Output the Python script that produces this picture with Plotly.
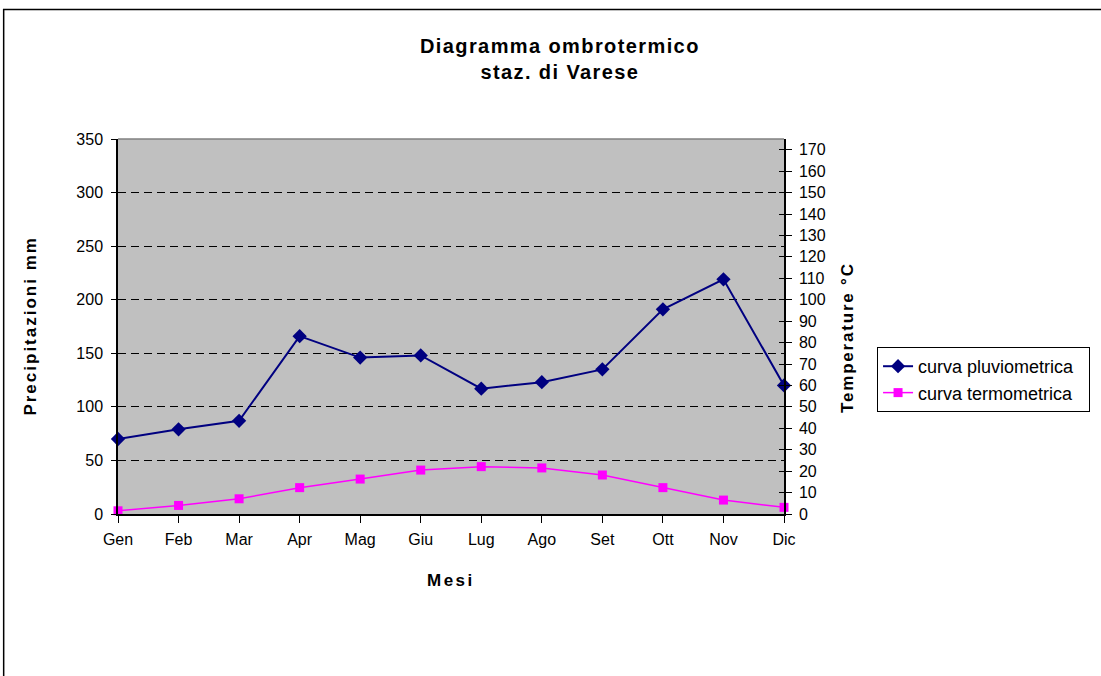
import plotly.graph_objects as go

months = ["Gen", "Feb", "Mar", "Apr", "Mag", "Giu", "Lug", "Ago", "Set", "Ott", "Nov", "Dic"]
precip_mm = [70, 79, 87, 166, 146, 148, 117, 123, 135, 191, 219, 120]
temp_c = [1.5, 4.0, 7.1, 12.3, 16.3, 20.5, 22.1, 21.5, 18.2, 12.3, 6.5, 3.1]

FONT = "Liberation Sans, Arial, sans-serif"


def spaced(text, px):
    return f'<span style="letter-spacing:{px}px">{text}</span>'


fig = go.Figure()
fig.add_trace(go.Scatter(
    x=months, y=precip_mm, name="curva pluviometrica  ", mode="lines+markers",
    line=dict(color="#000080", width=2),
    marker=dict(symbol="diamond", size=11, color="#000080"),
    cliponaxis=False, yaxis="y",
))
fig.add_trace(go.Scatter(
    x=months, y=temp_c, name="curva termometrica", mode="lines+markers",
    line=dict(color="#FF00FF", width=1.5),
    marker=dict(symbol="square", size=9, color="#FF00FF"),
    cliponaxis=False, yaxis="y2",
))
# invisible trace to carry the inner tick marks of the right axis
fig.add_trace(go.Scatter(
    x=months, y=temp_c, mode="lines", line=dict(color="rgba(0,0,0,0)", width=0),
    showlegend=False, hoverinfo="skip", yaxis="y3",
))

fig.update_layout(
    width=1101, height=676,
    margin=dict(l=118, r=316, t=139, b=162),
    paper_bgcolor="white", plot_bgcolor="#C0C0C0",
    font=dict(family=FONT, size=16, color="black"),
    showlegend=True,
    legend=dict(
        x=1.138, y=0.4453, xanchor="left", yanchor="top",
        bordercolor="black", borderwidth=1, bgcolor="white",
        font=dict(family=FONT, size=18, color="black"),
        tracegroupgap=4,
    ),
    xaxis=dict(
        type="category", range=[0, 11],
        showline=True, linecolor="black", linewidth=1.5,
        ticks="outside", ticklen=7, tickcolor="black",
        showgrid=False, zeroline=False, ticklabelstandoff=3,
        tickfont=dict(family=FONT, size=16, color="black"),
    ),
    yaxis=dict(
        range=[0, 350], dtick=50, tick0=0,
        showline=True, linecolor="black", linewidth=1.5,
        ticks="outside", ticklen=5, tickcolor="black",
        showgrid=True, gridcolor="black", gridwidth=1, griddash="8px,5px",
        zeroline=False, ticklabelstandoff=5,
        tickfont=dict(family=FONT, size=16, color="black"),
    ),
    yaxis2=dict(
        range=[0, 175], dtick=10, tick0=0, overlaying="y", side="right",
        showline=True, linecolor="black", linewidth=1.5,
        ticks="outside", ticklen=6, tickcolor="black",
        showgrid=False, zeroline=False, ticklabelstandoff=4,
        tickfont=dict(family=FONT, size=16, color="black"),
    ),
    yaxis3=dict(
        range=[0, 175], dtick=10, tick0=0, overlaying="y", side="right",
        showline=False, ticks="inside", ticklen=5, tickcolor="black",
        showticklabels=False, showgrid=False, zeroline=False,
    ),
)

annotations = [
    dict(text="<b>" + spaced("Diagramma ombrotermico", 1.4) + "</b><br><b>" + spaced("staz. di Varese", 1.4) + "</b>",
         x=0.664, y=1.2133, xref="paper", yref="paper",
         xanchor="center", yanchor="middle", showarrow=False,
         font=dict(family=FONT, size=20, color="black")),
    dict(text="<b>" + spaced("Precipitazioni mm", 2) + "</b>", x=-0.132, y=0.5, xref="paper", yref="paper",
         xanchor="center", yanchor="middle", showarrow=False, textangle=-90,
         font=dict(family=FONT, size=17, color="black")),
    dict(text="<b>" + spaced("Temperature °C", 1.8) + "</b>", x=1.0945, y=0.472, xref="paper", yref="paper",
         xanchor="center", yanchor="middle", showarrow=False, textangle=-90,
         font=dict(family=FONT, size=17, color="black")),
    dict(text="<b>" + spaced("Mesi", 2.5) + "</b>", x=0.5, y=-0.176, xref="paper", yref="paper",
         xanchor="center", yanchor="middle", showarrow=False,
         font=dict(family=FONT, size=17, color="black")),
]
fig.update_layout(annotations=annotations)

fig.update_layout(shapes=[
    # outer chart-area border (extends beyond the window on right and bottom)
    dict(type="rect", xref="paper", yref="paper",
         x0=(3.5 - 118) / 667, x1=(1120 - 118) / 667,
         y0=(514 - 700) / 375, y1=(514 - 9.5) / 375,
         line=dict(color="black", width=1.5), fillcolor="rgba(0,0,0,0)", layer="below"),
    # top border of plot area
    dict(type="line", xref="paper", yref="paper", x0=0, x1=1, y0=1, y1=1,
         line=dict(color="#808080", width=1.5)),
])

fig.write_html(
    "out.html",
    config={"displayModeBar": False},
    post_script="document.body.style.margin='0';document.body.style.overflow='hidden';",
)
